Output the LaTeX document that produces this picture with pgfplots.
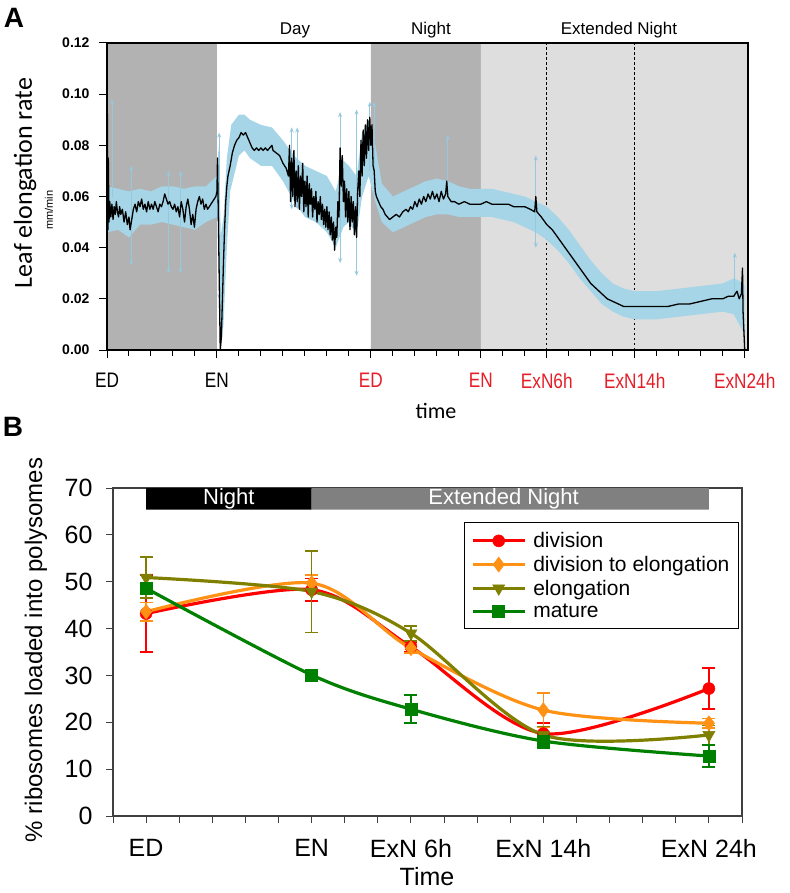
\documentclass[border=0pt]{standalone}
\usepackage{pgfplots}
\pgfplotsset{compat=1.18}
\usepackage{pgfplotstable}
\usepackage{graphicx}
\usetikzlibrary{arrows.meta}
\usepackage{fontspec}
\setmainfont{Liberation Sans}
\newfontfamily\carlito{Carlito}
\newcommand\nx[1]{\scalebox{0.82}[1]{#1}}

\definecolor{dgray}{RGB}{178,178,178}
\definecolor{lgray}{RGB}{222,222,222}
\definecolor{bandc}{RGB}{165,213,230}
\definecolor{arrc}{RGB}{150,200,222}
\definecolor{tickred}{RGB}{230,30,40}
\definecolor{cdiv}{RGB}{255,0,0}
\definecolor{cdte}{RGB}{255,145,20}
\definecolor{celo}{RGB}{128,128,0}
\definecolor{cmat}{RGB}{0,128,0}
\definecolor{bargray}{RGB}{128,128,128}
\definecolor{boxc}{RGB}{64,64,64}

\pgfplotstableread{
t y
0 0.000
0.03 0.094
0.08 0.047
0.12 0.075
0.18 0.050
0.25 0.058
0.35 0.052
0.45 0.057
0.55 0.051
0.65 0.056
0.75 0.053
0.85 0.058
0.95 0.054
1.05 0.052
1.15 0.056
1.25 0.053
1.4 0.055
1.55 0.050
1.7 0.054
1.85 0.049
2.0 0.052
2.1 0.047
2.25 0.051
2.4 0.055
2.55 0.057
2.7 0.054
2.85 0.058
3.0 0.056
3.15 0.059
3.3 0.055
3.45 0.057
3.6 0.054
3.75 0.058
3.9 0.055
4.05 0.057
4.2 0.055
4.35 0.058
4.5 0.056
4.65 0.054
4.8 0.057
4.95 0.056
5.1 0.058
5.25 0.061
5.4 0.059
5.55 0.057
5.7 0.058
5.85 0.056
6.0 0.055
6.15 0.057
6.3 0.054
6.45 0.056
6.6 0.052
6.75 0.058
6.9 0.055
7.05 0.050
7.2 0.056
7.35 0.059
7.5 0.055
7.65 0.049
7.8 0.053
7.95 0.048
8.1 0.055
8.25 0.058
8.4 0.060
8.55 0.057
8.7 0.059
8.85 0.055
9.0 0.057
9.15 0.055
9.3 0.056
9.45 0.057
9.6 0.058
9.75 0.059
9.9 0.060
10.0 0.062
10.05 0.075
10.1 0.060
10.2 0.030
10.3 0.000
10.4 0.005
10.5 0.020
10.6 0.035
10.7 0.048
10.8 0.058
10.9 0.064
11.0 0.068
11.2 0.072
11.4 0.077
11.6 0.080
11.8 0.082
12.0 0.083
12.2 0.085
12.4 0.084
12.6 0.085
12.8 0.083
13.0 0.081
13.2 0.079
13.4 0.078
13.6 0.079
13.8 0.078
14.0 0.079
14.2 0.078
14.4 0.079
14.6 0.078
14.8 0.079
15.0 0.080
15.1 0.078
15.4 0.077
15.7 0.076
16.0 0.073
16.3 0.071
16.5 0.068
16.6 0.080
16.7 0.058
16.8 0.075
16.9 0.060
17.0 0.078
17.1 0.056
17.2 0.070
17.3 0.058
17.4 0.072
17.5 0.055
17.6 0.068
17.7 0.060
17.8 0.073
17.9 0.054
18.0 0.066
18.1 0.056
18.2 0.068
18.3 0.052
18.4 0.065
18.5 0.057
18.6 0.063
18.7 0.052
18.8 0.060
18.9 0.055
19.0 0.062
19.1 0.050
19.2 0.058
19.3 0.053
19.4 0.060
19.5 0.051
19.6 0.057
19.7 0.049
19.8 0.055
19.9 0.048
20.0 0.056
20.1 0.047
20.2 0.054
20.3 0.045
20.4 0.052
20.5 0.043
20.6 0.050
20.7 0.039
20.8 0.048
20.9 0.044
21.0 0.058
21.1 0.052
21.2 0.079
21.3 0.064
21.4 0.076
21.5 0.058
21.6 0.066
21.7 0.052
21.8 0.063
21.9 0.050
22.0 0.062
22.1 0.047
22.2 0.060
22.3 0.050
22.4 0.058
22.5 0.045
22.6 0.056
22.7 0.044
22.8 0.062
22.9 0.070
23.0 0.060
23.1 0.082
23.2 0.068
23.3 0.086
23.4 0.072
23.5 0.088
23.6 0.075
23.7 0.090
23.8 0.078
23.9 0.091
24.0 0.080
24.1 0.088
24.2 0.072
24.3 0.070
24.4 0.062
24.5 0.060
24.7 0.058
24.9 0.056
25.1 0.055
25.3 0.053
25.5 0.052
25.7 0.051
26.0 0.052
26.3 0.053
26.6 0.052
26.9 0.054
27.2 0.055
27.4 0.054
27.6 0.056
27.8 0.055
28.0 0.058
28.2 0.056
28.4 0.059
28.6 0.057
28.8 0.060
29.0 0.058
29.2 0.061
29.4 0.059
29.6 0.062
29.8 0.059
30.0 0.061
30.2 0.058
30.4 0.062
30.6 0.059
30.8 0.061
30.9 0.066
31.0 0.060
31.3 0.058
31.6 0.058
32.0 0.057
32.5 0.058
33.0 0.057
33.5 0.057
34.0 0.057
34.5 0.058
35.0 0.057
35.5 0.057
36.0 0.057
36.5 0.057
37.0 0.056
37.5 0.056
38.0 0.056
38.5 0.055
38.9 0.054
39.0 0.060
39.1 0.054
39.5 0.052
40.0 0.049
40.5 0.047
41.0 0.044
41.5 0.041
42.0 0.038
42.5 0.035
43.0 0.032
43.5 0.029
44.0 0.026
44.5 0.024
45.0 0.022
45.5 0.020
46.0 0.019
46.5 0.018
47.0 0.017
48.0 0.017
49.0 0.017
50.0 0.017
51.0 0.017
52.0 0.018
53.0 0.018
54.0 0.019
55.0 0.020
56.0 0.020
56.5 0.021
57.0 0.021
57.3 0.023
57.5 0.020
57.7 0.022
57.8 0.032
57.85 0.015
57.95 0.005
58.0 0.000
}\lerline

% band outline: upper edge left to right, then lower edge right to left
\pgfplotstableread{
t v
0 0.064
1 0.063
2 0.062
3 0.063
4 0.062
5 0.064
6 0.064
7 0.063
8 0.064
9 0.064
10 0.068
10.15 0.080
10.35 0.045
10.6 0.052
10.9 0.075
11.3 0.088
12 0.092
12.5 0.092
13 0.090
14 0.088
15 0.087
16 0.082
17 0.076
18 0.072
19 0.070
20 0.068
20.8 0.062
21.5 0.074
22 0.072
22.7 0.068
23.2 0.085
23.8 0.090
24.4 0.080
25 0.065
26 0.060
27 0.062
28 0.064
29 0.066
30 0.067
31 0.066
32 0.064
33 0.063
34 0.063
35 0.063
36 0.062
37 0.061
38 0.060
39 0.058
40 0.056
41 0.052
42 0.047
43 0.041
44 0.035
45 0.030
46 0.026
47 0.024
48 0.023
50 0.023
52 0.024
54 0.025
56 0.026
57 0.028
57.5 0.027
58 0.025
58 0.006
57.5 0.010
57 0.014
56 0.015
54 0.014
52 0.013
50 0.012
48 0.012
47 0.013
46 0.015
45 0.018
44 0.023
43 0.028
42 0.034
41 0.039
40 0.043
39 0.046
38 0.048
37 0.050
36 0.051
35 0.052
34 0.052
33 0.052
32 0.052
31 0.053
30 0.053
29 0.052
28 0.050
27 0.048
26 0.046
25 0.050
24.4 0.058
23.8 0.068
23.2 0.060
22.7 0.045
22 0.050
21.5 0.048
20.8 0.040
20 0.046
19 0.050
18 0.052
17 0.058
16 0.066
15 0.072
14 0.072
13 0.075
12.5 0.078
12 0.076
11.2 0.062
10.9 0.040
10.6 0.010
10.35 0.000
10.25 0.030
10.1 0.050
10 0.052
9 0.050
8 0.047
7 0.048
6 0.049
5 0.050
4 0.049
3 0.049
2 0.044
1 0.047
0 0.046
}\lerband

\pgfplotstableread{
x y e
0 43.2 8.2
10 48.3 2.4
16 36.1 1.0
24 17.6 2.3
34 27.2 4.4
}\division
\pgfplotstableread{
x y e
0 43.6 2.0
10 49.7 1.7
16 35.8 1.0
24 22.6 3.6
34 19.8 1.0
}\divtoel
\pgfplotstableread{
x y e
0 50.9 4.4
10 47.9 8.7
16 39.0 1.6
24 17.3 1.8
34 17.3 2.0
}\elong
\pgfplotstableread{
x y e
0 48.6 0.8
10 30.1 0.6
16 22.8 3.0
24 16.0 1.5
34 12.8 2.4
}\mature

\tikzset{arr/.style={arrc, line width=0.8pt}}

\begin{document}
\begin{tikzpicture}
\useasboundingbox (0pt,0pt) rectangle (789pt,-893pt);

% ---------------- Panel A ----------------
\begin{axis}[
  at={(107pt,-350pt)}, anchor=south west, scale only axis,
  width=641pt, height=307pt,
  xmin=0, xmax=58.3, ymin=0, ymax=0.12,
  axis on top,
  axis line style={black, line width=1.4pt},
  tick align=outside, tick pos=left,
  major tick length=8pt, minor tick length=6pt,
  every tick/.style={black, line width=1pt},
  xtick={0,10,24,34,40,48,58},
  xticklabels={\nx{ED},\nx{EN},\textcolor{tickred}{\nx{ED}},\textcolor{tickred}{\nx{EN}},\textcolor{tickred}{\nx{ExN6h}},\textcolor{tickred}{\nx{ExN14h}},\textcolor{tickred}{\nx{ExN24h}}},
  minor xtick={2,4,...,56},
  ytick={0,0.02,0.04,0.06,0.08,0.10,0.12},
  yticklabels={0.00,0.02,0.04,0.06,0.08,0.10,0.12},
  scaled y ticks=false,
  xticklabel style={font=\fontsize{21}{23}\selectfont, yshift=-12pt},
  yticklabel style={font=\bfseries\fontsize{14}{16}\selectfont, xshift=-6pt},
]
\addplot[fill=dgray, draw=none] coordinates {(0,0) (0,0.12) (10,0.12) (10,0) (0,0)};
\addplot[fill=dgray, draw=none] coordinates {(24,0) (24,0.12) (34,0.12) (34,0) (24,0)};
\addplot[fill=lgray, draw=none] coordinates {(34,0) (34,0.12) (58.3,0.12) (58.3,0) (34,0)};
\addplot[black, line width=1.2pt, dash pattern=on 2.5pt off 2.5pt] coordinates {(40,0) (40,0.12)};
\addplot[black, line width=1.2pt, dash pattern=on 2.5pt off 2.5pt] coordinates {(48,0) (48,0.12)};

\addplot[fill=bandc, draw=none] table[x=t, y=v] {\lerband};

\addplot[arr, -{Stealth[length=5pt,width=4pt]}] coordinates {(0.45,0.060) (0.45,0.098)};
\addplot[arr, {Stealth[length=5pt,width=4pt]}-{Stealth[length=5pt,width=4pt]}] coordinates {(2.2,0.033) (2.2,0.072)};
\addplot[arr, {Stealth[length=5pt,width=4pt]}-{Stealth[length=5pt,width=4pt]}] coordinates {(5.6,0.030) (5.6,0.070)};
\addplot[arr, {Stealth[length=5pt,width=4pt]}-{Stealth[length=5pt,width=4pt]}] coordinates {(6.7,0.030) (6.7,0.070)};
\addplot[arr, {Stealth[length=5pt,width=4pt]}-{Stealth[length=5pt,width=4pt]}] coordinates {(10.2,0.020) (10.2,0.085)};
\addplot[arr, {Stealth[length=5pt,width=4pt]}-{Stealth[length=5pt,width=4pt]}] coordinates {(16.8,0.055) (16.8,0.087)};
\addplot[arr, {Stealth[length=5pt,width=4pt]}-{Stealth[length=5pt,width=4pt]}] coordinates {(17.3,0.055) (17.3,0.087)};
\addplot[arr, {Stealth[length=5pt,width=4pt]}-{Stealth[length=5pt,width=4pt]}] coordinates {(21.2,0.034) (21.2,0.093)};
\addplot[arr, {Stealth[length=5pt,width=4pt]}-{Stealth[length=5pt,width=4pt]}] coordinates {(22.7,0.029) (22.7,0.094)};
\addplot[arr, -{Stealth[length=5pt,width=4pt]}] coordinates {(23.9,0.070) (23.9,0.097)};
\addplot[arr, {Stealth[length=5pt,width=4pt]}-{Stealth[length=5pt,width=4pt]}] coordinates {(24.3,0.060) (24.3,0.097)};
\addplot[arr, -{Stealth[length=5pt,width=4pt]}] coordinates {(31.0,0.060) (31.0,0.084)};
\addplot[arr, {Stealth[length=5pt,width=4pt]}-{Stealth[length=5pt,width=4pt]}] coordinates {(39.0,0.040) (39.0,0.076)};
\addplot[arr, -{Stealth[length=5pt,width=4pt]}] coordinates {(57.1,0.022) (57.1,0.038)};

\addplot[black, line width=1.3pt, line join=round] table[x=t, y=y] {\lerline};
\end{axis}

% Panel A texts
\node[font=\bfseries\fontsize{28}{30}\selectfont] at (14pt,-18pt) {A};
\node[font=\fontsize{17}{19}\selectfont] at (295pt,-30pt) {Day};
\node[font=\fontsize{17}{19}\selectfont] at (431pt,-30pt) {Night};
\node[font=\fontsize{17}{19}\selectfont] at (619pt,-30pt) {Extended Night};
\node[rotate=90, font=\carlito\fontsize{26}{28}\selectfont] at (25pt,-183pt) {Leaf elongation rate};
\node[rotate=90, font=\fontsize{11}{12}\selectfont] at (49pt,-210pt) {mm/min};
\node[font=\carlito\fontsize{22}{24}\selectfont] at (436pt,-411pt) {time};

% ---------------- Panel B ----------------
\begin{axis}[
  at={(113pt,-816pt)}, anchor=south west, scale only axis,
  width=629pt, height=328pt,
  xmin=-2, xmax=36, ymin=0, ymax=70,
  axis line style={boxc, line width=1.1pt},
  tick align=outside, tick pos=left,
  major tick length=7pt, minor tick length=7pt,
  every tick/.style={boxc, line width=1pt},
  xtick={0,10,16,24,34},
  xticklabels={ED,EN,ExN 6h,ExN 14h,ExN 24h},
  minor xtick={-2,0,...,36},
  ytick={0,10,20,30,40,50,60,70},
  yticklabels={0,10,20,30,40,50,60,70},
  ticklabel style={font=\fontsize{25}{27}\selectfont},
  xticklabel style={yshift=-13pt},
  yticklabel style={xshift=-10pt},
  legend style={at={(0.995,0.896)}, anchor=north east, draw=black, line width=0.8pt,
    font=\fontsize{21}{23}\selectfont, row sep=3pt, inner xsep=7pt, inner ysep=8pt,
    cells={anchor=west}, /tikz/every odd column/.append style={column sep=5pt}},
  legend image code/.code={\draw[mark repeat=2,mark phase=2,#1] plot coordinates {(0pt,0pt) (26pt,0pt) (52pt,0pt)};},
  error bars/error bar style={line width=1.6pt},
  error bars/error mark options={rotate=90, mark size=6.5pt, line width=1.6pt},
]
\addplot[fill=black, draw=none, forget plot] coordinates {(0,65.4) (0,70) (10,70) (10,65.4) (0,65.4)};
\addplot[fill=bargray, draw=none, forget plot] coordinates {(10,65.4) (10,70) (34,70) (34,65.4) (10,65.4)};
\node[white, font=\fontsize{22}{24}\selectfont] at (axis cs:5,67.7) {Night};
\node[white, font=\fontsize{22}{24}\selectfont] at (axis cs:21.6,67.7) {Extended Night};

\addplot[cdiv, line width=3.2pt, smooth, mark=*, mark size=6pt, mark options={solid, line width=0.5pt, fill=cdiv},
  error bars/.cd, y dir=both, y explicit] table[x=x, y=y, y error=e] {\division};
\addlegendentry{division}
\addplot[cdte, line width=3.2pt, smooth, mark=diamond*, mark size=7.5pt, mark options={solid, line width=0.5pt, fill=cdte},
  error bars/.cd, y dir=both, y explicit] table[x=x, y=y, y error=e] {\divtoel};
\addlegendentry{division to elongation}
\addplot[celo, line width=3.2pt, smooth, mark=triangle*, mark size=7pt, mark options={solid, rotate=180, line width=0.5pt, fill=celo},
  error bars/.cd, y dir=both, y explicit] table[x=x, y=y, y error=e] {\elong};
\addlegendentry{elongation}
\addplot[cmat, line width=3.2pt, smooth, mark=square*, mark size=6pt, mark options={solid, line width=0.5pt, fill=cmat},
  error bars/.cd, y dir=both, y explicit] table[x=x, y=y, y error=e] {\mature};
\addlegendentry{mature}
\end{axis}

\node[font=\bfseries\fontsize{28}{30}\selectfont] at (13pt,-427pt) {B};
\node[rotate=90, font=\fontsize{24}{26}\selectfont] at (36pt,-650pt) {\% ribosomes loaded into polysomes};
\node[font=\fontsize{25}{27}\selectfont] at (427pt,-877pt) {Time};
\end{tikzpicture}
\end{document}
